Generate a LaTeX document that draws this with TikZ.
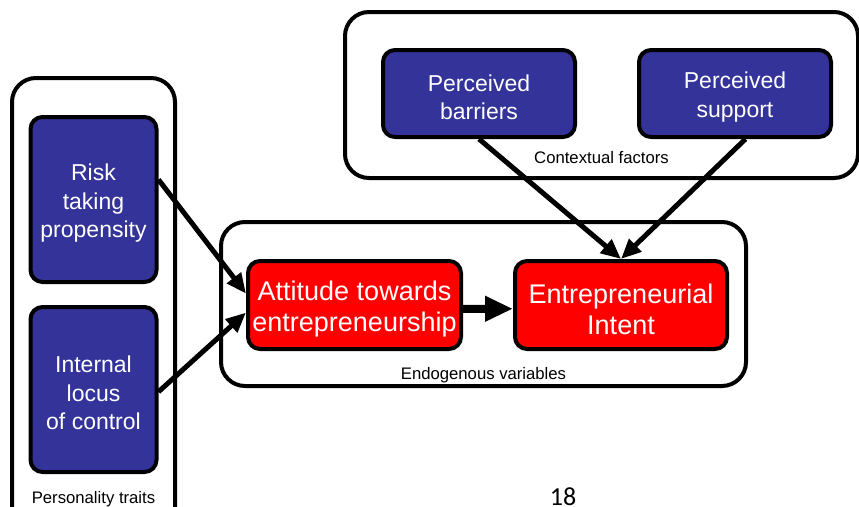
\documentclass[tikz,border=0pt]{standalone}
\usepackage{fontspec}
\setmainfont{Liberation Sans}
\newfontfamily\slidefont{Carlito}
\usetikzlibrary{arrows.meta, positioning}
\definecolor{factorblue}{RGB}{51,51,153}
% extra room above the first line, so the text sits a bit lower in its box
\newcommand{\toproom}{\rule{0pt}{1.05em}}

\begin{document}
\begin{tikzpicture}[
        x=1pt, y=-1pt,
        group/.style={rectangle, draw, line width=4pt, rounded corners=24pt},
        factor/.style={rectangle, draw, line width=4pt, rounded corners=12pt,
                    fill=factorblue, text=white, align=center, inner sep=0pt,
                    font=\fontsize{23}{28.5}\selectfont},
        outcome/.style={factor, fill=red, font=\fontsize{27}{31}\selectfont},
        grouplabel/.style={font=\fontsize{16.7}{19}\selectfont, inner sep=0pt},
        arr/.style={-{Triangle[length=20pt, width=17pt]}, line width=5pt},
        bigarr/.style={-{Triangle[length=28pt, width=24pt]}, line width=8pt}
    ]
    \useasboundingbox (0,0) rectangle (859,506);

    % Group frames
    \node[group, minimum width=163pt, minimum height=462pt] (pers) at (93.5,309) {};
    \node[group, minimum width=525pt, minimum height=164pt] (endo) at (483.5,304) {};
    \node[group, minimum width=513pt, minimum height=166pt] (ctx)  at (601.5,95) {};

    % Personality traits
    \node[factor, minimum width=126pt, minimum height=165pt] (risk)  at (93.5,199.5) {\toproom Risk\\taking\\propensity};
    \node[factor, minimum width=126pt, minimum height=165pt] (locus) at (93.5,389.5) {\toproom Internal\\locus\\of control};

    % Contextual factors
    \node[factor, minimum width=192pt, minimum height=87pt] (barr) at (479,93.5) {\toproom Perceived\\barriers};
    \node[factor, minimum width=192pt, minimum height=87pt] (supp) at (735,93.5) {\toproom Perceived\\support};

    % Endogenous variables
    \node[outcome, minimum width=213pt, minimum height=88pt] (att)    at (354.5,305) {\toproom Attitude towards\\entrepreneurship};
    \node[outcome, minimum width=212pt, minimum height=88pt] (intent) at (621,305) {\toproom Entrepreneurial\\Intent};

    % Frame labels
    \node[grouplabel, above=16pt of ctx.south]   (ctxlbl)  {Contextual factors};
    \node[grouplabel, above=5pt of endo.south]   (endolbl) {Endogenous variables};
    \node[grouplabel, below=17pt of locus.south] (perslbl) {Personality traits};

    % Connections
    \draw[arr] (risk.17)--(att.174);
    \draw[arr] (locus.-2)--(att.184);
    \draw[arr] (barr.south)--(intent.north);
    \draw[arr] (supp.-77)--(intent.north);
    \draw[bigarr] (att.-2)--(intent.182);

    % Slide number
    \node[font=\slidefont\fontsize{26}{30}\selectfont, anchor=base] (pagenum) at (563,505) {18};
\end{tikzpicture}
\end{document}
